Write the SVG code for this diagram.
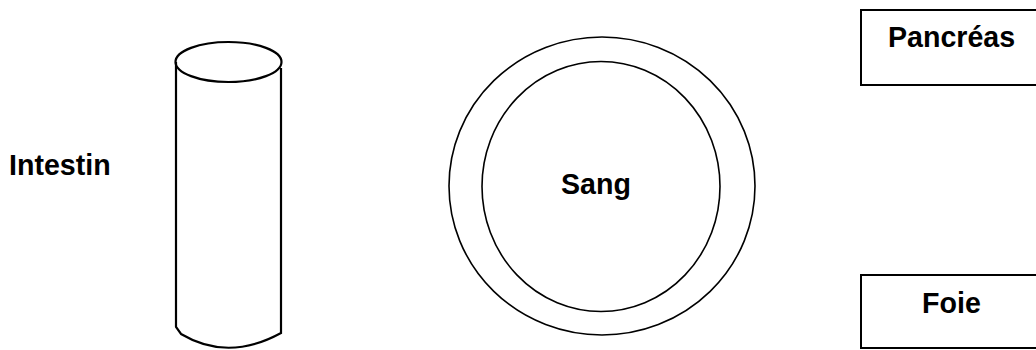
<svg xmlns="http://www.w3.org/2000/svg" width="1036" height="350" viewBox="0 0 1036 350">
<style>
.lbl{font-family:"Liberation Sans",Arial,sans-serif;font-weight:bold;font-size:28.6px;fill:#000}
.ln{fill:none;stroke:#000}
</style>
<rect width="1036" height="350" fill="#fff"/>
<g id="intestin">
<text class="lbl" x="9" y="175">Intestin</text>
<path class="ln" stroke-width="2.2" d="M176,62 L176,327 L181,334 Q228,362 281,333 L281,68"/>
<ellipse class="ln" stroke-width="2.2" cx="228.5" cy="62" rx="53" ry="20"/>
</g>
<g id="sang">
<ellipse class="ln" stroke-width="1.6" cx="602" cy="186" rx="153" ry="149"/>
<ellipse class="ln" stroke-width="1.6" cx="601" cy="186.5" rx="119" ry="125"/>
<text class="lbl" x="561" y="194">Sang</text>
</g>
<g id="pancreas">
<rect class="ln" stroke-width="2" x="861" y="10" width="190" height="75"/>
<text class="lbl" x="888" y="47">Pancréas</text>
</g>
<g id="foie">
<rect class="ln" stroke-width="2" x="861" y="275" width="190" height="73"/>
<text class="lbl" x="922" y="313">Foie</text>
</g>
<g id="connectors"/>
</svg>
